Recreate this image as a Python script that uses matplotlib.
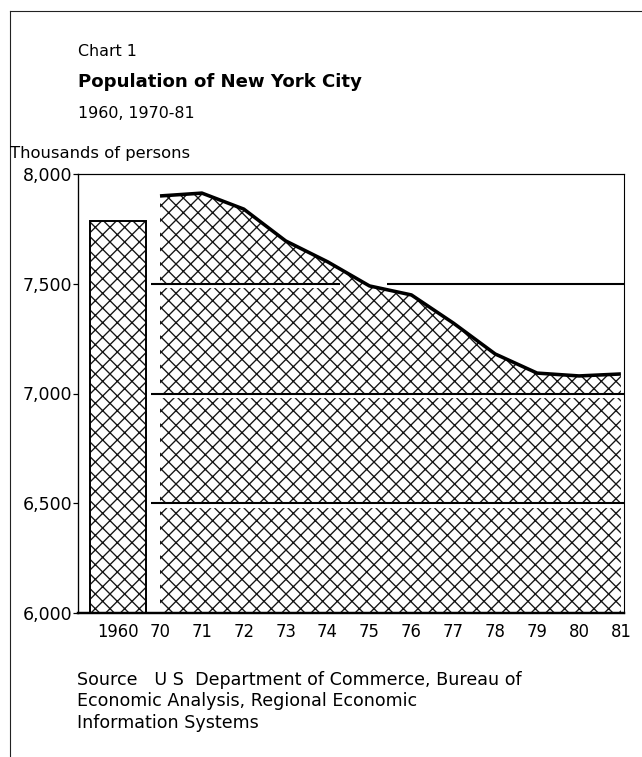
import matplotlib
matplotlib.use("Agg")
import matplotlib.pyplot as plt
from matplotlib.ticker import FuncFormatter, FixedLocator
from matplotlib.lines import Line2D

# ---------------- data ----------------
year_labels = ["1960", "70", "71", "72", "73", "74", "75", "76", "77", "78", "79", "80", "81"]
pop_1960 = 7785
years_70_81 = ["70", "71", "72", "73", "74", "75", "76", "77", "78", "79", "80", "81"]
pop_70_81 = [7900, 7913, 7840, 7695, 7600, 7490, 7449, 7321, 7180, 7093, 7080, 7089]
y_ticks = [6000, 6500, 7000, 7500, 8000]

title_small = "Chart 1"
title_main = "Population of New York City"
subtitle = "1960, 1970-81"
unit_label = "Thousands of persons"
source_lines = ["Source   U S  Department of Commerce, Bureau of",
                "Economic Analysis, Regional Economic",
                "Information Systems"]

# ---------------- figure ----------------
W, H, DPI = 642, 757, 88
plt.rcParams['font.family'] = ['DejaVu Sans']
plt.rcParams['hatch.linewidth'] = 1.1
plt.rcParams['hatch.color'] = '#151515'

fig = plt.figure(figsize=(W / DPI, H / DPI), dpi=DPI)
fig.patch.set_facecolor('white')

def px(x, y):
    return x / W, 1 - y / H

# axes placed in pixel coordinates
ax_l, ax_r, ax_t, ax_b = 78, 624, 174, 613
ax = fig.add_axes([ax_l / W, 1 - ax_b / H, (ax_r - ax_l) / W, (ax_b - ax_t) / H])

unit = 41.9
x0 = 160
xlim = ((ax_l - x0) / unit, (ax_r - x0) / unit)
ax.set_xlim(*xlim)
ax.set_ylim(6000, 8000)

pos_70 = list(range(len(years_70_81)))
pos_1960 = -1

# gridlines with white band below
grid_segments = [(7500, -0.215, 4.3), (7500, 5.42, xlim[1]),
                 (7000, -0.215, xlim[1]), (6500, -0.215, xlim[1])]

# area
ax.fill_between(pos_70, pop_70_81, 0, facecolor='white', edgecolor='#151515',
                hatch='xx', linewidth=0, zorder=1)
for yv, a, b in grid_segments:
    ax.hlines(yv - 11, a, b, color='white', linewidth=3.4, zorder=2)
    ax.hlines(yv, a, b, color='black', linewidth=1.7, zorder=3)
ax.plot(pos_70, pop_70_81, color='black', linewidth=2.9,
        solid_joinstyle='round', solid_capstyle='butt', zorder=4)

# 1960 bar
ax.bar([pos_1960], [pop_1960], width=1.34, bottom=0, facecolor='white',
       edgecolor='#151515', hatch='xx', linewidth=0, zorder=5)
ax.bar([pos_1960], [pop_1960], width=1.34, bottom=0, facecolor='none',
       edgecolor='black', linewidth=1.6, zorder=6)

# spines
ax.spines['left'].set_linewidth(1.1)
ax.spines['top'].set_linewidth(1.0)
ax.spines['right'].set_linewidth(0.9)
ax.spines['bottom'].set_linewidth(2.0)
for s in ax.spines.values():
    s.set_zorder(7)

# ticks
ax.set_yticks(y_ticks)
ax.yaxis.set_major_formatter(FuncFormatter(lambda v, p: f"{int(v):,}"))
ax.tick_params(axis='y', direction='out', length=4, width=1.0, pad=1,
               labelsize=14.2, colors='black')
ax.set_xticks([pos_1960] + pos_70)
ax.set_xticklabels(year_labels)
ax.tick_params(axis='x', which='major', length=0, pad=8, labelsize=13.5)
ax.xaxis.set_minor_locator(FixedLocator(pos_70))
ax.tick_params(axis='x', which='minor', direction='in', length=19, width=1.2,
               colors='black')

# texts
fig.text(*px(78, 56), title_small, fontsize=13, va='baseline', ha='left')
fig.text(*px(78, 87), title_main, fontsize=14.8, fontweight='bold',
         va='baseline', ha='left')
fig.text(*px(78, 118), subtitle, fontsize=13, va='baseline', ha='left')
fig.text(*px(10, 158), unit_label, fontsize=13.4, va='baseline', ha='left')
for i, line in enumerate(source_lines):
    fig.text(*px(77, 685 + 21.5 * i), line, fontsize=14.3, va='baseline', ha='left')

# page frame (left and top rules)
fig.add_artist(Line2D([10 / W, 10 / W], [0, 1 - 11 / H], transform=fig.transFigure,
                      color='#222222', linewidth=0.9))
fig.add_artist(Line2D([10 / W, 1], [1 - 11 / H, 1 - 11 / H], transform=fig.transFigure,
                      color='#222222', linewidth=0.9))

fig.savefig("out.png", dpi=DPI, facecolor='white')
